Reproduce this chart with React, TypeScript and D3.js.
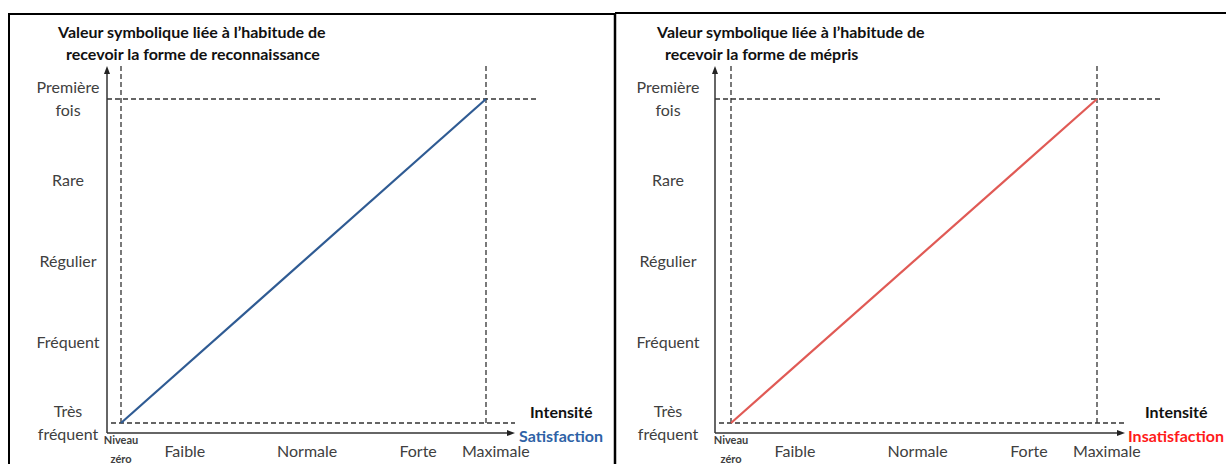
import React from "react";
import * as d3 from "d3";

const yLevels = ["Très fréquent", "Fréquent", "Régulier", "Rare", "Première fois"];
const yLevelLines = [["Très", "fréquent"], ["Fréquent"], ["Régulier"], ["Rare"], ["Première", "fois"]];
const xTickLabels = ["Niveau zéro", "Faible", "Normale", "Forte", "Maximale"];
const xTickValues = [0, 17.5, 51, 81.4, 102.7];
const lineIntensity = [0, 100];
const lineLevel = [0, 4];
const titles = [
  ["Valeur symbolique liée à l’habitude de", "recevoir la forme de reconnaissance"],
  ["Valeur symbolique liée à l’habitude de", "recevoir la forme de mépris"],
];
const outcomes = ["Satisfaction", "Insatisfaction"];
const colors = ["#2f5b93", "#e05a55"];
const outcomeColors = ["#2e62a6", "#ff1a1a"];

const FONT = "Lato, 'Open Sans', sans-serif";
const GRAY = "#404040";

type PanelGeom = {
  axisX: number; zeroX: number; maxX: number; labelX: number; titleX: number;
  intensX: number; outcomeX: number; arrowEnd: number; hDashEnd: number;
};

const geoms: PanelGeom[] = [
  { axisX: 107, zeroX: 121, maxX: 486, labelX: 68, titleX: 58, intensX: 530, outcomeX: 519, arrowEnd: 513, hDashEnd: 538 },
  { axisX: 715, zeroX: 731, maxX: 1097, labelX: 668, titleX: 657, intensX: 1145, outcomeX: 1128, arrowEnd: 1123, hDashEnd: 1163 },
];

function Panel({ idx }: { idx: number }) {
  const g = geoms[idx];
  const x = d3.scaleLinear().domain([0, 100]).range([g.zeroX, g.maxX]);
  const y = d3.scaleLinear().domain([0, 4]).range([423, 99]);
  const axisY = 433;
  const line = d3.line<number>().x((_, i) => x(lineIntensity[i])).y((_, i) => y(lineLevel[i]));
  const dash = "5,3";
  const topY = y(4);
  const baseY = y(0);
  return (
    <g>
      {titles[idx].map((t, i) => (
        <text key={i} x={i === 0 ? g.titleX : g.titleX + 8} y={38 + i * 22} fontFamily={FONT} fontWeight="bold" fontSize={16} fill="#111">{t}</text>
      ))}
      <line x1={x(0)} x2={x(0)} y1={66} y2={baseY} stroke="#333" strokeWidth={1.3} strokeDasharray={dash} />
      <line x1={x(100)} x2={x(100)} y1={66} y2={baseY} stroke="#333" strokeWidth={1.3} strokeDasharray={dash} />
      <line x1={g.axisX} x2={g.hDashEnd} y1={topY} y2={topY} stroke="#333" strokeWidth={1.3} strokeDasharray={dash} />
      <line x1={g.axisX + 4} x2={g.arrowEnd + 2} y1={baseY} y2={baseY} stroke="#333" strokeWidth={1.3} strokeDasharray={dash} />
      <line x1={g.axisX} x2={g.axisX} y1={axisY} y2={72} stroke="#333" strokeWidth={1.5} />
      <path d={`M${g.axisX - 3},${74} L${g.axisX},${66} L${g.axisX + 3},${74} Z`} fill="#222" />
      <line x1={g.axisX} x2={g.arrowEnd - 4} y1={axisY} y2={axisY} stroke="#333" strokeWidth={1.5} />
      <path d={`M${g.arrowEnd - 6},${axisY - 3} L${g.arrowEnd + 2},${axisY} L${g.arrowEnd - 6},${axisY + 3} Z`} fill="#222" />
      <path d={line(lineIntensity) || ""} fill="none" stroke={colors[idx]} strokeWidth={2.2} />
      {yLevels.map((lv, i) => {
        const lines = yLevelLines[i];
        const cy = y(i);
        return lines.map((l, j) => (
          <text key={lv + j} x={g.labelX} y={cy + (j - (lines.length - 1) / 2) * 23 + 5.5} textAnchor="middle" fontFamily={FONT} fontSize={16} fill={GRAY}>{l}</text>
        ));
      })}
      {xTickLabels.map((lb, i) => {
        if (i === 0) {
          return (
            <g key={lb}>
              <text x={x(xTickValues[i])} y={444} textAnchor="middle" fontFamily={FONT} fontWeight="bold" fontSize={11} fill={GRAY}>Niveau</text>
              <text x={x(xTickValues[i])} y={463} textAnchor="middle" fontFamily={FONT} fontWeight="bold" fontSize={11} fill={GRAY}>zéro</text>
            </g>
          );
        }
        return <text key={lb} x={x(xTickValues[i])} y={457} textAnchor="middle" fontFamily={FONT} fontSize={16} fill={GRAY}>{lb}</text>;
      })}
      <text x={g.intensX} y={418} fontFamily={FONT} fontWeight="bold" fontSize={16} fill="#111">Intensité</text>
      <text x={g.outcomeX} y={442} fontFamily={FONT} fontWeight="bold" fontSize={16} fill={outcomeColors[idx]}>{outcomes[idx]}</text>
    </g>
  );
}

export default function App() {
  return (
    <svg width={1226} height={464} style={{ position: "absolute", left: 0, top: 0, background: "#fff" }}>
      <rect x={0} y={0} width={1226} height={464} fill="#fff" />
      <path d="M9,470 L9,14 L615,14" fill="none" stroke="#000" strokeWidth={2} />
      <line x1={615} x2={615} y1={13} y2={470} stroke="#000" strokeWidth={2.5} />
      <line x1={615} x2={1230} y1={13} y2={13} stroke="#000" strokeWidth={2} />
      <Panel idx={0} />
      <Panel idx={1} />
    </svg>
  );
}
